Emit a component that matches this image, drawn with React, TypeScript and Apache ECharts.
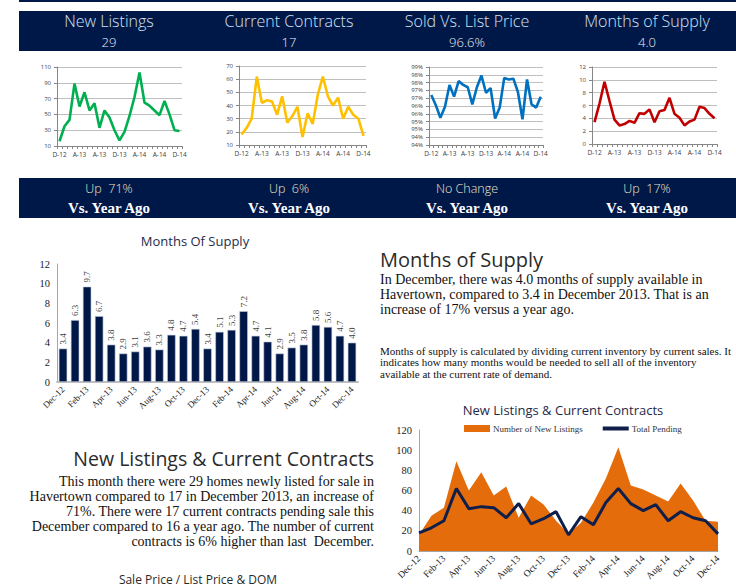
import React, { useEffect, useRef } from 'react';
import * as echarts from 'echarts';

const months = ['Dec-12','Jan-13','Feb-13','Mar-13','Apr-13','May-13','Jun-13','Jul-13','Aug-13','Sep-13','Oct-13','Nov-13','Dec-13','Jan-14','Feb-14','Mar-14','Apr-14','May-14','Jun-14','Jul-14','Aug-14','Sep-14','Oct-14','Nov-14','Dec-14'];
const newListings = [16,35,43,89,60,78,55,64,33,55,46,30,17,28,48,72,103,65,61,55,49,67,50,30,29];
const totalPending = [18,23,30,62,42,44,43,33,47,27,32,39,16,34,26,48,62,47,40,46,30,39,33,30,17];
const soldVsList = [96.7,96.05,95.25,95.95,97.35,96.6,97.6,97.35,97.2,96.1,97.2,97.95,96.85,97.15,95.2,95.9,97.8,97.7,97.75,96.9,95.15,97.7,96.1,95.9,96.6];
const monthsSupply = [3.4,6.3,9.7,6.7,3.8,2.9,3.1,3.6,3.3,4.8,4.7,5.4,3.4,5.1,5.3,7.2,4.7,4.1,2.9,3.5,3.8,5.8,5.6,4.7,4.0];

const headerTitles = ['New Listings','Current Contracts','Sold Vs. List Price','Months of Supply'];
const headerValues = ['29','17','96.6%','4.0'];
const changeTexts = ['Up  71%','Up  6%','No Change','Up  17%'];
const columnCenters = [109, 289, 467, 647];

const supplyParagraph = [
  'In December, there was 4.0 months of supply available in',
  'Havertown, compared to 3.4 in December 2013. That is an',
  'increase of 17% versus a year ago.',
];
const supplyNote = [
  'Months of supply is calculated by dividing current inventory by current sales. It',
  'indicates how many months would be needed to sell all of the inventory',
  'available at the current rate of demand.',
];
const listingsParagraph = [
  'This month there were 29 homes newly listed for sale in',
  'Havertown compared to 17 in December 2013, an increase of',
  '71%. There were 17 current contracts pending sale this',
  'December compared to 16 a year ago. The number of current',
  'contracts is 6% higher than last  December.',
];

const NAVY = '#001848';
const SANS = '"Open Sans", Lato, sans-serif';
const SERIF = '"Liberation Serif", "DejaVu Serif", serif';

export default function App() {
  const ref = useRef<HTMLDivElement>(null);
  useEffect(() => {
    if (!ref.current) return;
    const chart = echarts.init(ref.current, null, { renderer: 'svg' });

    const small = [
      { data: newListings, color: '#00B050', min: 10, max: 110, interval: 20, grid: { left: 57, top: 67, width: 125, height: 79 }, fmt: (v: number) => String(v) },
      { data: totalPending, color: '#FFC000', min: 10, max: 70, interval: 10, grid: { left: 239, top: 66, width: 127, height: 79 }, fmt: (v: number) => String(v) },
      { data: soldVsList, color: '#0070C0', min: 93.5, max: 98.5, interval: 0.5, grid: { left: 429, top: 67, width: 114, height: 78 }, fmt: (v: number) => Math.round(v) + '%' },
      { data: monthsSupply, color: '#C00000', min: 0, max: 12, interval: 2, grid: { left: 592, top: 67, width: 125, height: 77 }, fmt: (v: number) => String(v) },
    ];

    const grids: any[] = [];
    const xAxes: any[] = [];
    const yAxes: any[] = [];
    const series: any[] = [];

    small.forEach((s, i) => {
      grids.push({ ...s.grid, containLabel: false });
      xAxes.push({
        type: 'category', gridIndex: i, data: months, boundaryGap: true,
        axisLine: { lineStyle: { color: '#868686', width: 1 } },
        axisTick: { show: true, interval: 0, length: 3, lineStyle: { color: '#868686' } },
        axisLabel: { interval: 3, fontSize: 6.5, color: '#404040', fontFamily: SANS, margin: 5, formatter: (v: string) => v[0] + v.slice(3) },
        splitLine: { show: false },
      });
      yAxes.push({
        type: 'value', gridIndex: i, min: s.min, max: s.max, interval: s.interval,
        axisLine: { show: true, lineStyle: { color: '#868686' } },
        axisTick: { show: true, length: 3, lineStyle: { color: '#868686' } },
        axisLabel: { fontSize: 6, color: '#404040', fontFamily: SANS, margin: 6, formatter: s.fmt },
        splitLine: { show: true, lineStyle: { color: '#BFBFBF', width: 1 } },
      });
      series.push({
        type: 'line', xAxisIndex: i, yAxisIndex: i, data: s.data, symbol: 'none',
        lineStyle: { color: s.color, width: 2.6 }, itemStyle: { color: s.color }, silent: true,
      });
    });

    // Bar chart: Months Of Supply
    grids.push({ left: 57, top: 264, width: 301, height: 118 });
    xAxes.push({
      type: 'category', gridIndex: 4, data: months,
      axisLine: { lineStyle: { color: '#BFBFBF', width: 2 } },
      axisTick: { show: false },
      axisLabel: { interval: 1, rotate: 45, fontSize: 9, color: '#1a1a1a', fontFamily: SERIF, margin: 6 },
    });
    yAxes.push({
      type: 'value', gridIndex: 4, min: 0, max: 12, interval: 2,
      axisLine: { show: true, lineStyle: { color: '#A6A6A6' } },
      axisTick: { show: false },
      axisLabel: { fontSize: 10.5, color: '#1a1a1a', fontFamily: SERIF, margin: 7 },
      splitLine: { show: false },
    });
    series.push({
      type: 'bar', xAxisIndex: 4, yAxisIndex: 4, data: monthsSupply, barCategoryGap: '30%',
      itemStyle: { color: NAVY, borderColor: '#C5CCDA', borderWidth: 0.6 },
      label: {
        show: true, position: 'top', rotate: 90, align: 'left', verticalAlign: 'middle', distance: 4,
        fontSize: 9, fontFamily: SERIF, color: '#404040', formatter: (p: any) => Number(p.value).toFixed(1),
      },
    });

    // Area chart: New Listings & Current Contracts
    grids.push({ left: 419, top: 430, width: 299, height: 121 });
    xAxes.push({
      type: 'category', gridIndex: 5, data: months, boundaryGap: false,
      axisLine: { lineStyle: { color: '#A6A6A6', width: 1 } },
      axisTick: { show: false },
      axisLabel: { interval: 1, rotate: 45, fontSize: 9.5, color: '#1a1a1a', fontFamily: SERIF, margin: 6 },
    });
    yAxes.push({
      type: 'value', gridIndex: 5, min: 0, max: 120, interval: 20,
      axisLine: { show: true, lineStyle: { color: '#A6A6A6' } },
      axisTick: { show: false },
      axisLabel: { fontSize: 10.5, color: '#1a1a1a', fontFamily: SERIF, margin: 7 },
      splitLine: { show: false },
    });
    series.push({
      name: 'Number of New Listings', type: 'line', xAxisIndex: 5, yAxisIndex: 5, data: newListings,
      symbol: 'none', lineStyle: { width: 0, color: '#E46C0A' }, itemStyle: { color: '#E46C0A' },
      areaStyle: { color: '#E46C0A', opacity: 1 },
    });
    series.push({
      name: 'Total Pending', type: 'line', xAxisIndex: 5, yAxisIndex: 5, data: totalPending,
      symbol: 'none', lineStyle: { width: 3, color: '#0F1F4A' }, itemStyle: { color: '#0F1F4A' },
    });

    const graphic: any[] = [];
    graphic.push({ type: 'rect', shape: { x: 19, y: 0, width: 717, height: 2 }, style: { fill: NAVY } });
    graphic.push({ type: 'rect', shape: { x: 19, y: 11, width: 717, height: 40 }, style: { fill: NAVY } });
    graphic.push({ type: 'rect', shape: { x: 19, y: 178, width: 717, height: 40 }, style: { fill: NAVY } });
    columnCenters.forEach((cx, i) => {
      graphic.push({ type: 'text', x: cx, y: 21, style: { text: headerTitles[i], fill: '#D5E3F3', font: `300 16px ${SANS}`, align: 'center', verticalAlign: 'middle' } });
      graphic.push({ type: 'text', x: cx, y: 42, style: { text: headerValues[i], fill: '#E8EEF6', font: `300 13px ${SANS}`, align: 'center', verticalAlign: 'middle' } });
      graphic.push({ type: 'text', x: cx, y: 188, style: { text: changeTexts[i], fill: '#EDE3C8', font: `300 12.5px ${SANS}`, align: 'center', verticalAlign: 'middle' } });
      graphic.push({ type: 'text', x: cx, y: 208, style: { text: 'Vs. Year Ago', fill: '#FFFFFF', font: `bold 15px ${SERIF}`, align: 'center', verticalAlign: 'middle' } });
    });

    graphic.push({ type: 'text', x: 195, y: 241, style: { text: 'Months Of Supply', fill: '#1F2A4A', font: `13px ${SANS}`, align: 'center', verticalAlign: 'middle' } });
    graphic.push({ type: 'text', x: 563, y: 410, style: { text: 'New Listings & Current Contracts', fill: '#1F2A4A', font: `13px ${SANS}`, align: 'center', verticalAlign: 'middle' } });

    graphic.push({ type: 'text', x: 380, y: 259, style: { text: 'Months of Supply', fill: '#2B2B2B', font: `20px ${SANS}`, lineHeight: 20, align: 'left', verticalAlign: 'middle' } });
    supplyParagraph.forEach((t, i) => {
      graphic.push({ type: 'text', x: 380, y: 279 + i * 15, style: { text: t, fill: '#111111', font: `14px ${SERIF}`, lineHeight: 14, align: 'left', verticalAlign: 'middle' } });
    });
    supplyNote.forEach((t, i) => {
      graphic.push({ type: 'text', x: 380, y: 351 + i * 11.3, style: { text: t, fill: '#111111', font: `11px ${SERIF}`, lineHeight: 11, align: 'left', verticalAlign: 'middle' } });
    });

    graphic.push({ type: 'text', x: 374, y: 458, style: { text: 'New Listings & Current Contracts', fill: '#2B2B2B', font: `19.5px ${SANS}`, lineHeight: 18, align: 'right', verticalAlign: 'middle' } });
    listingsParagraph.forEach((t, i) => {
      graphic.push({ type: 'text', x: 374, y: 481 + i * 15, style: { text: t, fill: '#111111', font: `14px ${SERIF}`, lineHeight: 14, align: 'right', verticalAlign: 'middle' } });
    });
    graphic.push({ type: 'text', x: 198, y: 573, style: { text: 'Sale Price / List Price & DOM', fill: '#2B2B2B', font: `12px ${SANS}`, lineHeight: 12, align: 'center', verticalAlign: 'top' } });

    chart.setOption({
      animation: false,
      backgroundColor: '#FFFFFF',
      grid: grids,
      xAxis: xAxes,
      yAxis: yAxes,
      series,
      legend: {
        left: 459, top: 419, width: 275, itemGap: 20, itemWidth: 26, itemHeight: 7,
        textStyle: { fontFamily: SERIF, fontSize: 9, color: '#333333', padding: [0, 0, 0, -2] },
        data: [
          { name: 'Number of New Listings', icon: 'rect' },
          { name: 'Total Pending', icon: 'path://M0 0H26V4H0Z' },
        ],
        selectedMode: false,
      },
      graphic,
    });
    return () => chart.dispose();
  }, []);
  return <div ref={ref} style={{ position: 'fixed', left: 0, top: 0, width: 736, height: 587 }} />;
}
